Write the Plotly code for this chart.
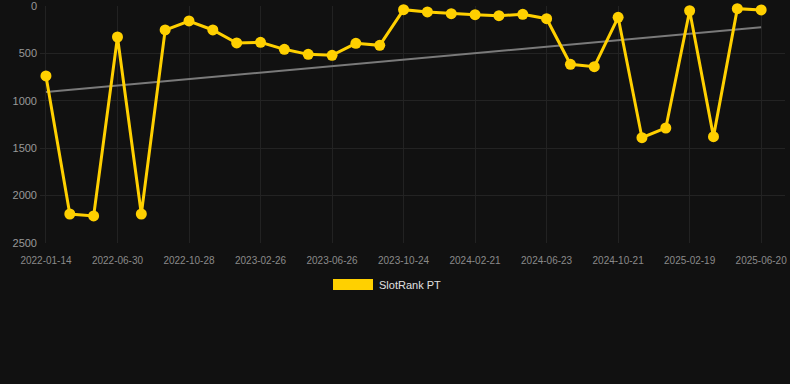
import numpy as np
import plotly.graph_objects as go

dates = [
    "2022-01-14", "2022-03-10", "2022-05-05", "2022-06-30", "2022-08-09", "2022-09-18",
    "2022-10-28", "2022-12-07", "2023-01-16", "2023-02-26", "2023-04-06", "2023-05-16",
    "2023-06-26", "2023-08-05", "2023-09-14", "2023-10-24", "2023-12-03", "2024-01-12",
    "2024-02-21", "2024-04-01", "2024-05-12", "2024-06-23", "2024-08-02", "2024-09-11",
    "2024-10-21", "2024-11-30", "2025-01-09", "2025-02-19", "2025-03-31", "2025-05-10",
    "2025-06-20",
]
rank = [738, 2194, 2215, 327, 2194, 253, 158, 253, 390, 383, 457, 510, 520, 394, 415,
        39, 63, 81, 92, 102, 88, 134, 615, 640, 119, 1389, 1287, 50, 1378, 28, 42]
tick_dates = dates[::3]
y_ticks = [0, 500, 1000, 1500, 2000, 2500]
series_name = "SlotRank PT"

idx = np.arange(len(rank))
slope, intercept = np.polyfit(idx, rank, 1)
trend = slope * idx + intercept

fig = go.Figure()
fig.add_trace(go.Scatter(
    x=dates, y=trend, mode="lines",
    line=dict(color="#7a7a7a", width=2),
    hoverinfo="skip", showlegend=False,
))
fig.add_trace(go.Scatter(
    x=dates, y=rank, mode="lines+markers", name=series_name,
    line=dict(color="#FFD000", width=3),
    marker=dict(color="#FFD000", size=11),
    cliponaxis=False, showlegend=False,
))

fig.update_layout(
    width=790, height=384,
    margin=dict(l=40, r=5, t=6, b=141),
    paper_bgcolor="#111111", plot_bgcolor="#111111",
    font=dict(family="Liberation Sans, Arial, sans-serif", color="#999999"),
    showlegend=False,
)
fig.update_xaxes(
    type="category", range=[-0.25, 31],
    tickvals=tick_dates, ticktext=tick_dates,
    tickfont=dict(size=10, color="#8a8a8a"),
    showgrid=True, gridcolor="#222222", gridwidth=1,
    zeroline=False, showline=False, ticks="",
    ticklabelstandoff=10, ticklabeloverflow="allow", automargin=False,
)
fig.update_yaxes(
    range=[2500, 0], tickvals=y_ticks,
    tickfont=dict(size=11, color="#999999"),
    showgrid=True, gridcolor="#232323", gridwidth=1,
    zeroline=False, showline=False, ticks="",
    ticklabelstandoff=2, ticklabeloverflow="allow", automargin=False,
)

# custom legend
fig.add_shape(type="rect", xref="paper", yref="paper",
              x0=(333 - 40) / 745, x1=(373 - 40) / 745,
              y0=(243 - 279) / 237, y1=(243 - 290) / 237,
              fillcolor="#FFD000", line=dict(width=0))
fig.add_annotation(xref="paper", yref="paper",
                   x=(377 - 40) / 745, y=(243 - 284.5) / 237,
                   xanchor="left", yanchor="middle", showarrow=False,
                   text=series_name, font=dict(size=11, color="#e0e0e0"))

fig.write_html(
    "out.html",
    config={"displayModeBar": False},
    post_script="document.body.style.margin='0';document.body.style.background='#111111';",
)
